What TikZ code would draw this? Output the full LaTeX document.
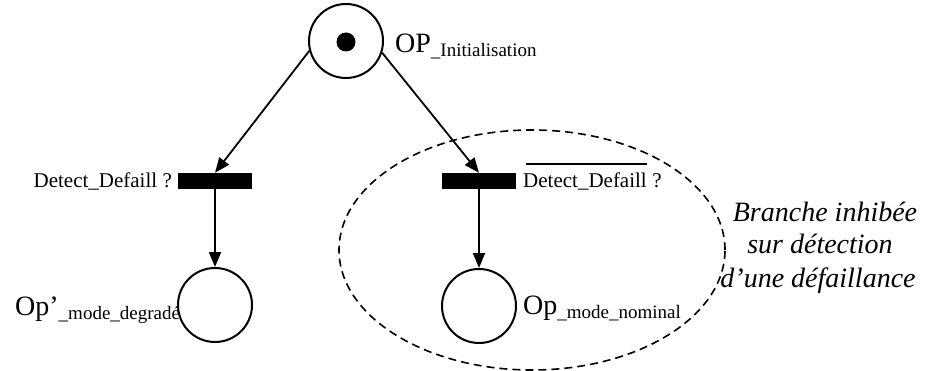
\documentclass[tikz,border=0pt]{standalone}
\usepackage{fontspec}
\setmainfont{Liberation Serif}
\usetikzlibrary{arrows.meta}
\begin{document}
\begin{tikzpicture}[x=1pt,y=-1pt,
  place/.style={circle,draw,line width=2pt,minimum size=74pt,inner sep=0pt},
  token/.style={circle,fill=black,minimum size=19pt,inner sep=0pt},
  trans/.style={rectangle,fill=black,minimum width=74pt,minimum height=16pt,inner sep=0pt},
  arr/.style={line width=1.8pt,-{Triangle[length=15pt,width=12pt]}},
  big/.style={font=\fontsize{28}{32}\selectfont,inner sep=0pt},
  mid/.style={font=\fontsize{21}{24}\selectfont,inner sep=0pt},
  note/.style={font=\fontsize{28}{32}\selectfont\itshape,inner sep=0pt}]
\useasboundingbox (0,0) rectangle (936,371);
\newcommand{\subtxt}[1]{\raisebox{-4pt}{\fontsize{19}{22}\selectfont #1}}
% places
\node[place] (p0) at (346,41) {};
\node[token] (tok) at (346,42) {};
\node[place] (p1) at (215,305) {};
\node[place] (p2) at (479,306) {};
% transitions
\node[trans] (t1) at (215,181) {};
\node[trans] (t2) at (479,181) {};
% arcs
\draw[arr] (p0.195) -- (t1.north);
\draw[arr] (p0.-18) -- (t2.north);
\draw[arr] (t1.south) -- (p1.north);
\draw[arr] (t2.south) -- (p2.north);
% labels
\node[big,anchor=base west] (l0) at (395,53) {OP\subtxt{\_Initialisation}};
\node[big,anchor=base west] (l1) at (15,315) {Op’\subtxt{\_mode\_degradé}};
\node[big,anchor=base west] (l2) at (523,314) {Op\subtxt{\_mode\_nominal}};
\node[mid,anchor=base east] (c1) at (172,188) {Detect\_Defaill ?};
\node[mid,anchor=base west] (c2) at (523,188) {Detect\_Defaill};
\node[mid,anchor=base west] (c2q) at (c2.base east) {\ ?};
\draw[line width=1.5pt] ([xshift=3pt,yshift=9pt]c2.north west) -- ([yshift=9pt]c2.north east);
% dashed zone
\draw[line width=1.6pt,dash pattern=on 8pt off 5pt] (532,250) ellipse [x radius=193pt, y radius=120pt];
\node[note,anchor=base] (n1) at (825,222) {Branche inhibée};
\node[note,anchor=base] (n2) at (820,254) {sur détection};
\node[note,anchor=base] (n3) at (818,287) {d’une défaillance};
\end{tikzpicture}
\end{document}
